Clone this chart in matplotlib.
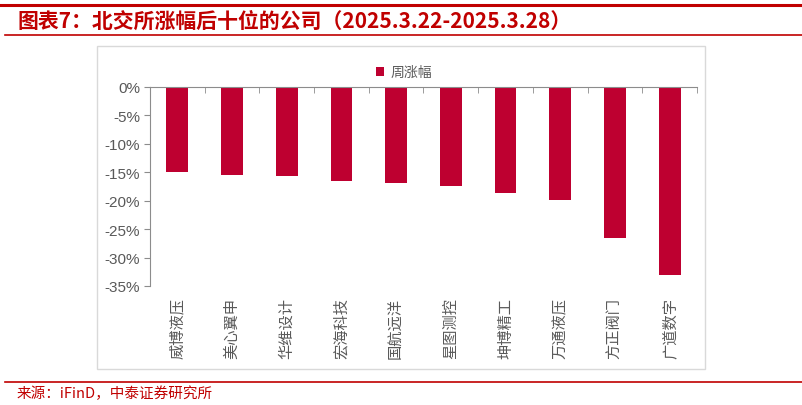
import matplotlib.pyplot as plt
from matplotlib.patches import Rectangle
from matplotlib.lines import Line2D

# --- 数据 ---
companies = ['威博液压', '美心翼申', '华维设计', '宏海科技', '国航远洋',
             '星图测控', '坤博精工', '万通液压', '方正阀门', '广道数字']
weekly_change = [-14.9, -15.4, -15.65, -16.6, -16.9, -17.4, -18.6, -19.8, -26.55, -33.1]
y_ticks = [0, -5, -10, -15, -20, -25, -30, -35]

title = '图表7：北交所涨幅后十位的公司（2025.3.22-2025.3.28）'
source = '来源：iFinD，中泰证券研究所'
legend_label = '周涨幅'

RED = '#C00000'
BAR = '#BE0030'
GRAY = '#595959'
AXIS = '#8C8C8C'

plt.rcParams['font.family'] = ['Liberation Sans', 'Noto Sans CJK SC', 'DejaVu Sans']

W, H = 803, 406
fig = plt.figure(figsize=(W / 100, H / 100), dpi=100)

def fx(px):
    return px / W

def fy(py):
    return 1 - py / H

# 外框和红线
fig.add_artist(Rectangle((fx(97), fy(370)), fx(705) - fx(97), fy(47) - fy(370),
                         transform=fig.transFigure, fill=False, edgecolor='#D9D9D9', lw=1))
fig.add_artist(Line2D([0, 1], [fy(6), fy(6)], transform=fig.transFigure, color=RED, lw=2.2))
fig.add_artist(Line2D([fx(5), 1], [fy(36), fy(36)], transform=fig.transFigure, color=RED, lw=1.2))
fig.add_artist(Line2D([fx(5), 1], [fy(383), fy(383)], transform=fig.transFigure, color=RED, lw=1.2))

fig.text(fx(18), fy(21), title, color=RED, fontsize=15, fontweight='bold',
         va='center', ha='left', family=['Noto Sans CJK SC', 'DejaVu Sans'])
fig.text(fx(17), fy(394), source, color=RED, fontsize=10.5, va='center', ha='left',
         family=['Noto Sans CJK SC', 'DejaVu Sans'])

# --- 图表 ---
ax = fig.add_axes([fx(150), fy(287), fx(697) - fx(150), fy(88) - fy(287)])
x = list(range(len(companies)))
ax.bar(x, weekly_change, width=0.4, color=BAR, label=legend_label, zorder=2)

ax.set_xlim(-0.5, len(companies) - 0.5)
ax.set_ylim(-35, 0)
ax.set_yticks(y_ticks)
ax.set_yticklabels([f'{v}%' for v in y_ticks])

ax.set_xticks(x)
ax.set_xticklabels(companies, rotation=90, family=['Noto Sans CJK SC', 'DejaVu Sans'])
ax.set_xticks([i - 0.5 for i in range(len(companies) + 1)], minor=True)

for s in ['bottom', 'right']:
    ax.spines[s].set_visible(False)
ax.spines['top'].set_color(AXIS)
ax.spines['left'].set_color(AXIS)
ax.spines['top'].set_zorder(3)

ax.tick_params(axis='x', which='major', length=0, pad=8, labelsize=11, labelcolor=GRAY)
ax.tick_params(axis='x', which='minor', top=True, bottom=False, direction='in',
               length=4, color=AXIS)
ax.tick_params(axis='y', length=4, color=AXIS, labelsize=11, labelcolor=GRAY, pad=3)

leg = ax.legend(loc='center', bbox_to_anchor=(fx(404), fy(73)), bbox_transform=fig.transFigure,
                frameon=False, handlelength=0.6, handleheight=0.6, handletextpad=0.5,
                prop={'family': ['Noto Sans CJK SC'], 'size': 10})
for t in leg.get_texts():
    t.set_color(GRAY)

fig.savefig('out.png', dpi=100)
